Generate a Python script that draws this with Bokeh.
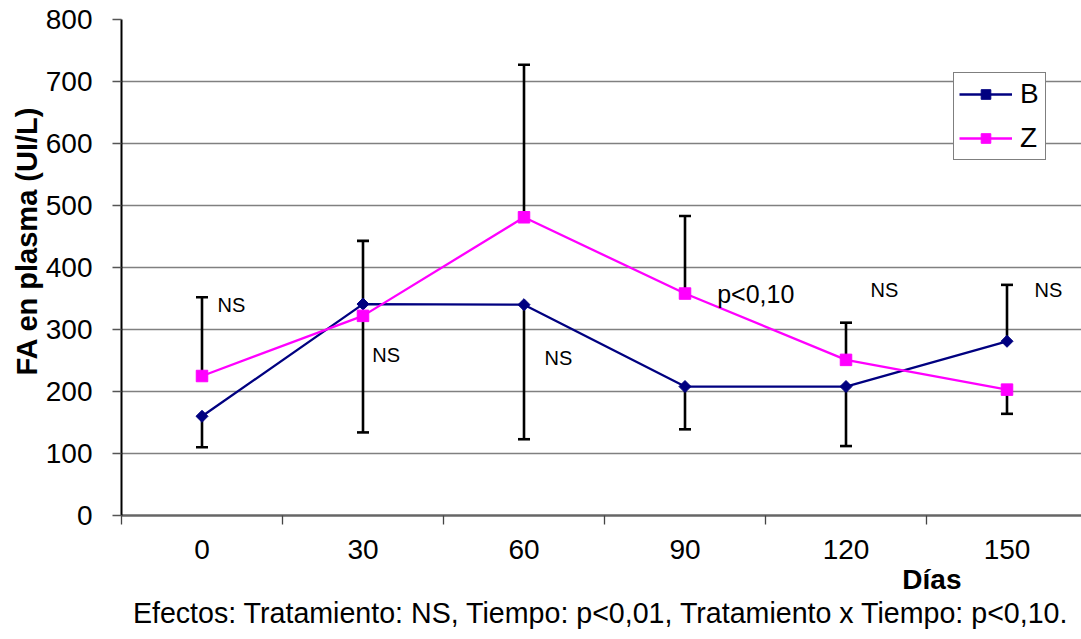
from math import pi
from bokeh.plotting import figure
from bokeh.models import (Range1d, FixedTicker, Legend, LegendItem,
                          ColumnDataSource, Title)
from bokeh.embed import file_html
from bokeh.resources import INLINE
from bokeh.core.properties import value

# ---------------- data ----------------
dias = ["0", "30", "60", "90", "120", "150"]
b_vals = [160, 341, 340, 208, 208, 281]
z_vals = [225, 322, 481, 358, 251, 203]
# one-sided error bars (positive = drawn upward, negative = drawn downward)
b_err = [-50, 102, -217, -69, -96, 91]
z_err = [127, -188, 246, 125, 60, -39]
ann_text = ["NS", "NS", "NS", "p<0,10", "NS", "NS"]
y_ticks = [0, 100, 200, 300, 400, 500, 600, 700, 800]

# ---------------- layout constants ----------------
W, H = 1081, 639
FL, FT, FB = 121, 19, 515          # frame left / top / bottom in px
CAT_PX = 161                       # px per category
FH = FB - FT
XMAX = (W - FL) / CAT_PX
YPX = FH / 800.0

def px_x(px):
    return (px - FL) / CAT_PX

def px_y(py):
    return (FB - py) / YPX

FONT = "Liberation Sans"
x = [i + 0.5 for i in range(len(dias))]

p = figure(width=W, height=H, x_range=Range1d(0, XMAX), y_range=Range1d(0, 800),
           output_backend="svg", toolbar_location=None,
           min_border_left=FL, min_border_right=0, min_border_top=FT,
           min_border_bottom=H - FB)
p.outline_line_color = None
p.background_fill_color = "white"
p.border_fill_color = "white"

# y axis
p.yaxis.ticker = FixedTicker(ticks=y_ticks)
p.yaxis.axis_line_color = "black"
p.yaxis.axis_line_width = 2
p.yaxis.major_tick_line_color = "#555555"
p.yaxis.major_tick_line_width = 1.3
p.yaxis.major_tick_out = 9
p.yaxis.major_tick_in = 0
p.yaxis.major_label_standoff = 20
p.yaxis.major_label_text_font = FONT
p.yaxis.major_label_text_font_size = "28px"
p.yaxis.major_label_text_color = "black"

# x axis (categories at centers, tick marks at boundaries)
p.xaxis.ticker = FixedTicker(ticks=x, minor_ticks=list(range(0, 7)))
p.xaxis.major_label_overrides = {xi: d for xi, d in zip(x, dias)}
p.xaxis.axis_line_color = "#666666"
p.xaxis.axis_line_width = 2.5
p.xaxis.major_tick_line_color = None
p.xaxis.major_tick_out = 8
p.xaxis.major_tick_in = 0
p.xaxis.minor_tick_line_color = "#444444"
p.xaxis.minor_tick_line_width = 1.3
p.xaxis.minor_tick_out = 9
p.xaxis.minor_tick_in = 0
p.xaxis.major_label_standoff = 15
p.xaxis.major_label_text_font = FONT
p.xaxis.major_label_text_font_size = "28px"
p.xaxis.major_label_text_color = "black"

p.xgrid.visible = False
p.ygrid.grid_line_color = "#808080"
p.ygrid.grid_line_width = 1.3

# error bars
def bars(vals, errs):
    x0, y0, y1 = [], [], []
    for xi, v, e in zip(x, vals, errs):
        x0.append(xi); y0.append(v); y1.append(v + e)
    return x0, y0, y1

for vals, errs in ((b_vals, b_err), (z_vals, z_err)):
    bx, by0, by1 = bars(vals, errs)
    p.segment(x0=bx, y0=by0, x1=bx, y1=by1, line_color="black", line_width=2.6)
    p.scatter(bx, by1, marker="dash", size=12, line_color="black", line_width=2.6)

# series
lb = p.line(x, b_vals, line_color="#000080", line_width=2.3)
sb = p.scatter(x, b_vals, marker="square", angle=pi / 4, size=8.5,
               fill_color="#000080", line_color="#000080")
lz = p.line(x, z_vals, line_color="#FF00FF", line_width=2.3)
sz = p.scatter(x, z_vals, marker="square", size=11.5,
               fill_color="#FF00FF", line_color="#FF00FF")

# significance annotations
ann_px = [20, 20, 20, 25, 20, 20]
ann_x = [px_x(v) for v in (217, 371.7, 544, 716.7, 870, 1034)]
ann_base = (311, 361.7, 364, 302.7, 296.7, 296.7)
ann_y = [px_y(b - 0.35 * s) for b, s in zip(ann_base, ann_px)]
src = ColumnDataSource(dict(x=ann_x, y=ann_y, t=ann_text,
                            s=["%dpx" % s for s in ann_px]))
p.text(x="x", y="y", text="t", source=src, text_font=value(FONT),
       text_font_size="s", text_align="left", text_baseline="alphabetic",
       text_color="black")

# legend
legend = Legend(items=[LegendItem(label="B", renderers=[lb, sb]),
                       LegendItem(label="Z", renderers=[lz, sz])],
                location=(953 - FL, FB - 160))
legend.label_text_font = FONT
legend.label_text_font_size = "28px"
legend.label_text_color = "black"
legend.glyph_width = 53
legend.glyph_height = 24
legend.label_standoff = 8
legend.padding = 5
legend.spacing = 12
legend.border_line_color = "black"
legend.border_line_width = 1.3
legend.background_fill_alpha = 1
legend.margin = 0
p.add_layout(legend)

# axis titles and footnote
p.add_layout(Title(text="FA en plasma (UI/L)", align="right", offset=87,
                   text_font=FONT, text_font_size="29px", text_font_style="bold",
                   text_color="black", standoff=0), "left")
p.add_layout(Title(text="Días", align="right", offset=120,
                   text_font=FONT, text_font_size="28px", text_font_style="bold",
                   text_color="black", standoff=0), "below")
p.add_layout(Title(text="Efectos: Tratamiento: NS, Tiempo: p<0,01, Tratamiento x Tiempo: p<0,10.",
                   align="right", offset=12,
                   text_font=FONT, text_font_size="28.6px", text_font_style="normal",
                   text_color="black", standoff=0), "below")

open("out.html", "w").write(file_html(p, INLINE))
